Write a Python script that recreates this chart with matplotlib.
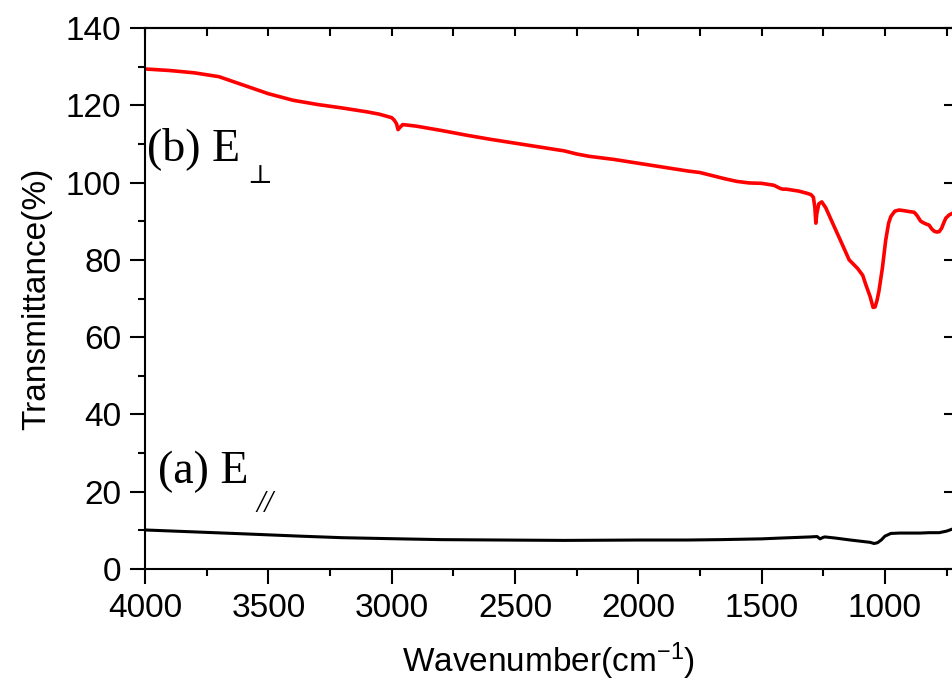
import matplotlib
matplotlib.use("Agg")
import matplotlib.pyplot as plt
from matplotlib.ticker import MultipleLocator

plt.rcParams['font.family'] = ['Liberation Sans', 'DejaVu Sans']
plt.rcParams['mathtext.default'] = 'regular'

# (b) E perpendicular spectrum
wn_perp = [4000, 3900, 3800, 3700, 3600, 3500, 3400, 3300, 3200, 3100, 3050,
           3000, 2990, 2980, 2974, 2966, 2955, 2940, 2900, 2800, 2700, 2600,
           2500, 2400, 2300, 2250, 2200, 2100, 2000, 1900, 1800, 1750, 1700,
           1650, 1600, 1550, 1500, 1450, 1425, 1415, 1400, 1350, 1320, 1300,
           1290, 1284, 1280, 1276, 1268, 1256, 1240, 1212, 1180, 1145, 1111,
           1090, 1077, 1060, 1048, 1040, 1032, 1024, 1010, 997, 985, 976, 960,
           942, 920, 902, 890, 881, 870, 855, 841, 830, 821, 810, 800, 790,
           780, 770, 760, 753, 740, 728]
t_perp = [129.4, 129.0, 128.4, 127.4, 125.2, 123.0, 121.3, 120.2, 119.3, 118.3,
          117.7, 116.8, 116.2, 115.2, 113.7, 114.3, 115.0, 114.9, 114.6, 113.5,
          112.3, 111.2, 110.2, 109.2, 108.2, 107.4, 106.8, 106.0, 105.0, 104.0,
          103.0, 102.6, 101.8, 101.0, 100.3, 99.9, 99.8, 99.3, 98.5, 98.3, 98.3,
          97.8, 97.3, 96.9, 96.2, 93.5, 89.5, 92.0, 94.5, 95.0, 93.5, 89.5,
          85.0, 80.0, 77.8, 76.0, 73.5, 70.5, 67.7, 67.8, 69.5, 72.0, 78.0,
          85.0, 89.5, 91.2, 92.6, 92.9, 92.7, 92.5, 92.4, 92.3, 91.5, 90.0,
          89.5, 89.2, 89.0, 88.0, 87.4, 87.2, 87.3, 88.2, 89.8, 90.8, 91.6,
          92.0]

# (a) E parallel spectrum
wn_par = [4000, 3800, 3600, 3371, 3200, 2966, 2800, 2560, 2300, 1993, 1800,
          1668, 1500, 1425, 1303, 1275, 1263, 1250, 1243, 1200, 1140, 1100,
          1060, 1044, 1030, 1015, 1000, 976, 940, 900, 857, 820, 780, 750, 728]
t_par = [10.1, 9.6, 9.1, 8.5, 8.1, 7.8, 7.6, 7.5, 7.4, 7.5, 7.5, 7.6, 7.8,
         8.0, 8.3, 8.4, 7.8, 8.2, 8.3, 8.0, 7.5, 7.2, 6.9, 6.6, 6.8, 7.5,
         8.5, 9.2, 9.3, 9.3, 9.3, 9.4, 9.4, 9.8, 10.3]

fig = plt.figure(figsize=(9.52, 6.84), dpi=100)
ax = fig.add_axes([145 / 952, 1 - 569 / 684, 807 / 952, 541 / 684])

ax.plot(wn_perp, t_perp, color='#ff0000', lw=2.6)
ax.plot(wn_par, t_par, color='black', lw=2.2)

ax.set_xlim(4000, 728)
ax.set_ylim(0, 140)
ax.xaxis.set_major_locator(MultipleLocator(500))
ax.xaxis.set_minor_locator(MultipleLocator(250))
ax.yaxis.set_major_locator(MultipleLocator(20))
ax.yaxis.set_minor_locator(MultipleLocator(10))

for s in ax.spines.values():
    s.set_linewidth(1.5)
ax.spines['right'].set_visible(False)

# outward ticks on bottom/left
ax.tick_params(which='both', direction='out', width=1.5, labelsize=24)
ax.tick_params(which='major', length=11, pad=6)
ax.tick_params(which='minor', length=5)

# short inward ticks mirrored on top and right, no labels
top = ax.secondary_xaxis('top')
top.xaxis.set_major_locator(MultipleLocator(500))
top.xaxis.set_minor_locator(MultipleLocator(250))
top.tick_params(which='both', direction='in', length=6, width=1.5,
                labeltop=False)
top.spines['top'].set_linewidth(1.5)
right = ax.secondary_yaxis('right')
right.yaxis.set_major_locator(MultipleLocator(20))
right.tick_params(which='both', direction='in', length=6, width=1.5,
                  labelright=False)
right.spines['right'].set_visible(False)

ax.set_xlabel('Wavenumber(cm$^{-1}$)', fontsize=24, labelpad=12)
ax.set_ylabel('Transmittance(%)', fontsize=24, labelpad=10)

serif = ['Liberation Serif', 'DejaVu Serif']
ax.text(0.0025, 0.756, '(b) E', transform=ax.transAxes, fontsize=33,
        family=serif, va='baseline', ha='left')
ax.text(0.1264, 0.7135, '\u22a5', transform=ax.transAxes, fontsize=19,
        family=['DejaVu Serif'], va='baseline', ha='left')
ax.text(0.0161, 0.1584, '(a) E', transform=ax.transAxes, fontsize=33,
        family=serif, va='baseline', ha='left')
ax.text(0.138, 0.105, '//', transform=ax.transAxes, fontsize=22,
        family=serif, style='italic', va='baseline', ha='left')

fig.savefig('out.png', dpi=100)
